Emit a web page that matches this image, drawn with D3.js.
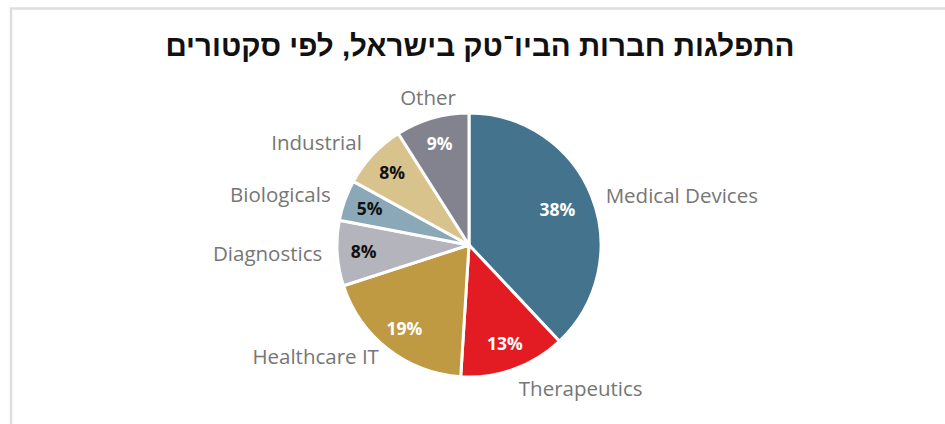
<!DOCTYPE html>
<html>
<head>
<meta charset="utf-8">
<script src="https://cdn.jsdelivr.net/npm/d3@7"></script>
<style>
  body { margin: 0; background: #fff; }
  svg { display: block; }
</style>
</head>
<body>
<div id="chart-pie"></div>
<script>
const sectors = ['Medical Devices', 'Therapeutics', 'Healthcare IT', 'Diagnostics', 'Biologicals', 'Industrial', 'Other']
const shares = [38, 13, 19, 8, 5, 8, 9]
const sliceColors = ['#43738d', '#e31b23', '#c09a43', '#b4b4bc', '#8aa8b8', '#d9c38d', '#83838f']
const pctColors = ['#fff', '#fff', '#fff', '#111', '#111', '#111', '#fff']
const titleText = 'התפלגות חברות הביו־טק בישראל, לפי סקטורים'

const width = 945
const height = 424
const cx = 469
const cy = 245
const radius = 132

const svg = d3
  .select('#chart-pie')
  .append('svg')
  .attr('width', width)
  .attr('height', height)

// light frame around the chart
svg
  .append('rect')
  .attr('x', 11)
  .attr('y', 8.5)
  .attr('width', width + 20)
  .attr('height', height + 20)
  .attr('fill', 'none')
  .attr('stroke', '#dedede')
  .attr('stroke-width', 2.5)

svg
  .append('text')
  .attr('x', 480)
  .attr('y', 56)
  .attr('text-anchor', 'middle')
  .attr('direction', 'rtl')
  .attr('font-family', 'Liberation Sans, Arial, sans-serif')
  .attr('font-weight', 'bold')
  .attr('font-size', 29.5)
  .attr('fill', '#111')
  .text(titleText)

const data = sectors.map((s, i) => ({ sector: s, value: shares[i], i: i }))

const pie = d3.pie().sort(null).value(d => d.value)
const arcs = pie(data)

const arc = d3.arc().innerRadius(0).outerRadius(radius)
const pctArc = d3.arc().innerRadius(radius * 0.8).outerRadius(radius * 0.8)
// the big slice keeps its label nearer the middle
const bigArc = d3.arc().innerRadius(radius * 0.72).outerRadius(radius * 0.72)

const g = svg.append('g').attr('transform', 'translate(' + cx + ',' + cy + ')')

g.selectAll('path')
  .data(arcs)
  .enter()
  .append('path')
  .attr('d', arc)
  .attr('fill', d => sliceColors[d.data.i])
  .attr('stroke', '#fff')
  .attr('stroke-width', 3)
  .attr('stroke-linejoin', 'round')

g.selectAll('.pct')
  .data(arcs)
  .enter()
  .append('text')
  .attr('class', 'pct')
  .attr('transform', d => {
    const c = d.data.value > 30 ? bigArc.centroid(d) : pctArc.centroid(d)
    return 'translate(' + c + ')'
  })
  .attr('text-anchor', 'middle')
  .attr('dy', '0.35em')
  .attr('font-family', 'Open Sans, sans-serif')
  .attr('font-weight', 'bold')
  .attr('font-size', 17.5)
  .attr('fill', d => pctColors[d.data.i])
  .text(d => d.data.value + '%')

// category labels just outside the pie
const labelR = radius + 15
const labelNudge = [5, 6, -4, 0, 0, -2, -6]

g.selectAll('.cat')
  .data(arcs)
  .enter()
  .append('text')
  .attr('class', 'cat')
  .each(function(d) {
    const a = (d.startAngle + d.endAngle) / 2
    const s = Math.sin(a)
    const x = labelR * s
    const y = -labelR * Math.cos(a) + labelNudge[d.data.i]
    let anchor = 'middle'
    if (s > 0.3) anchor = 'start'
    if (s < -0.3) anchor = 'end'
    d3.select(this)
      .attr('x', x)
      .attr('y', y)
      .attr('text-anchor', anchor)
  })
  .attr('dy', '0.35em')
  .attr('font-family', 'Open Sans, sans-serif')
  .attr('font-size', 20.5)
  .attr('fill', '#767676')
  .text(d => d.data.sector)
</script>
</body>
</html>
